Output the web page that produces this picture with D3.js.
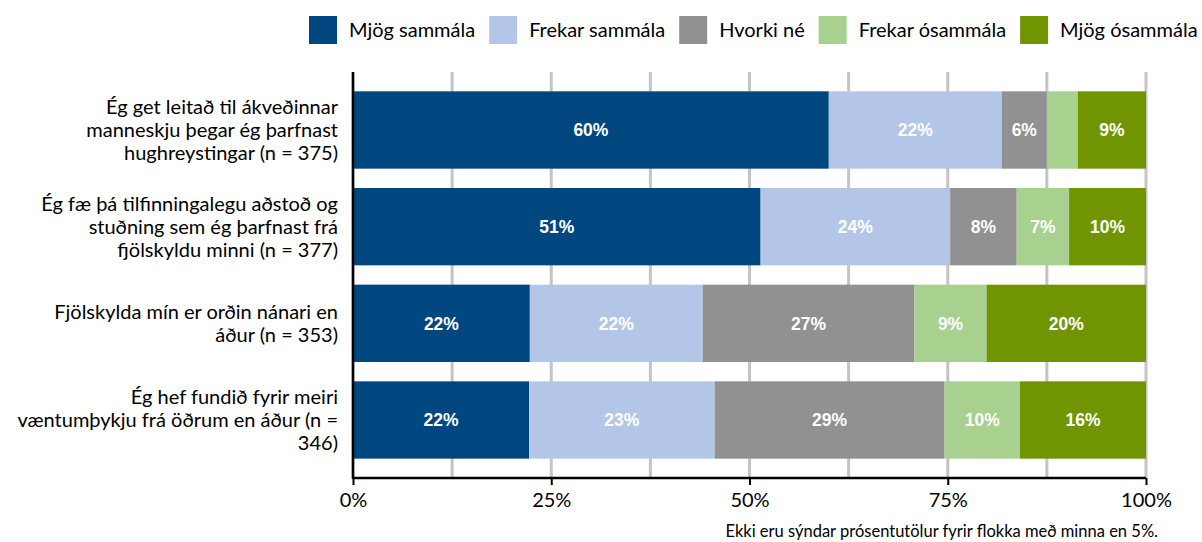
<!DOCTYPE html>
<html>
<head>
<meta charset="utf-8">
<script src="https://cdn.jsdelivr.net/npm/d3@7"></script>
<style>
  html, body { margin: 0; padding: 0; background: #fff; }
  svg { display: block; }
</style>
</head>
<body>
<svg id="chart" width="1202" height="542"></svg>
<script>
// Survey statements (line breaks mark where each label wraps)
const categories = [
  "Ég get leitað til ákveðinnar\nmanneskju þegar ég þarfnast\nhughreystingar (n = 375)",
  "Ég fæ þá tilfinningalegu aðstoð og\nstuðning sem ég þarfnast frá\nfjölskyldu minni (n = 377)",
  "Fjölskylda mín er orðin nánari en\náður (n = 353)",
  "Ég hef fundið fyrir meiri\nvæntumþykju frá öðrum en áður (n =\n346)"
];

const seriesNames = ["Mjög sammála", "Frekar sammála", "Hvorki né", "Frekar ósammála", "Mjög ósammála"];

// Share of answers (%) per statement, one array per response option
const mjogSammala    = [60.0, 51.4, 22.3, 22.2];
const frekarSammala  = [21.8, 23.9, 21.8, 23.4];
const hvorkiNe       = [5.7, 8.4, 26.7, 29.0];
const frekarOsammala = [3.9, 6.6, 9.1, 9.5];
const mjogOsammala   = [8.6, 9.7, 20.1, 15.9];

const xTickValues = [0, 25, 50, 75, 100];
const footnote = "Ekki eru sýndar prósentutölur fyrir flokka með minna en 5%.";

const colors = ["#00477f", "#b4c6e7", "#919191", "#a8d08e", "#709500"];
const labelFont = "Lato, 'Noto Sans', sans-serif";

const seriesValues = [mjogSammala, frekarSammala, hvorkiNe, frekarOsammala, mjogOsammala];
const rows = categories.map((c, i) => {
  const r = { cat: c };
  seriesNames.forEach((s, j) => { r[s] = seriesValues[j][i]; });
  return r;
});

const svg = d3.select("#chart");
const margin = { top: 72, left: 353, right: 56, bottom: 64 };
const W = 1202, H = 542;

const x = d3.scaleLinear().domain([0, 100]).range([margin.left, W - margin.right]);
const y = d3.scaleBand().domain(categories).range([margin.top, H - margin.bottom])
  .paddingInner(0.2).paddingOuter(0.2);

// Vertical gridlines every 12.5%
svg.append("g")
  .selectAll("line")
  .data(d3.range(0, 100.01, 12.5))
  .join("line")
  .attr("x1", d => x(d)).attr("x2", d => x(d))
  .attr("y1", margin.top).attr("y2", H - margin.bottom)
  .attr("stroke", "#c4c4c4").attr("stroke-width", 3);

// Stacked bars
const stack = d3.stack().keys(seriesNames)(rows);
const layers = svg.append("g").selectAll("g")
  .data(stack)
  .join("g")
  .attr("fill", (d, i) => colors[i]);

layers.selectAll("rect")
  .data(d => d)
  .join("rect")
  .attr("x", d => x(d[0]))
  .attr("width", d => x(d[1]) - x(d[0]))
  .attr("y", d => y(d.data.cat))
  .attr("height", y.bandwidth());

// Value labels (only for segments of 5% or more)
layers.selectAll("text")
  .data(d => d.filter(v => v[1] - v[0] >= 5))
  .join("text")
  .attr("x", d => (x(d[0]) + x(d[1])) / 2)
  .attr("y", d => y(d.data.cat) + y.bandwidth() / 2)
  .attr("dy", "0.36em")
  .attr("text-anchor", "middle")
  .attr("fill", "#fff")
  .attr("font-family", "'Liberation Sans', Arial, sans-serif")
  .attr("font-weight", "bold")
  .attr("font-size", 17.5)
  .text(d => Math.round(d[1] - d[0]) + "%");

// Left axis line
svg.append("line")
  .attr("x1", margin.left).attr("x2", margin.left)
  .attr("y1", margin.top).attr("y2", H - margin.bottom + 1)
  .attr("stroke", "#000").attr("stroke-width", 2.5);

// Bottom axis
const xAxis = svg.append("g")
  .attr("transform", `translate(0,${H - margin.bottom})`)
  .call(d3.axisBottom(x).tickValues(xTickValues).tickFormat(d => d + "%").tickSize(7).tickPadding(8));
xAxis.select(".domain").attr("stroke", "#000").attr("stroke-width", 2.5)
  .attr("d", `M${x(0)},0H${x(100)}`);
xAxis.selectAll(".tick line").attr("stroke", "#000").attr("stroke-width", 2);
xAxis.selectAll(".tick text")
  .attr("font-family", labelFont).attr("font-size", 20).attr("fill", "#000");

// Category labels
const lineH = 23;
svg.append("g").selectAll("text")
  .data(categories)
  .join("text")
  .attr("text-anchor", "end")
  .attr("font-family", labelFont)
  .attr("font-size", 20)
  .attr("fill", "#000")
  .each(function (d) {
    const lines = d.split("\n");
    const cy = y(d) + y.bandwidth() / 2;
    const start = cy - (lines.length - 1) * lineH / 2;
    d3.select(this).selectAll("tspan")
      .data(lines)
      .join("tspan")
      .attr("x", 338)
      .attr("y", (l, i) => start + i * lineH)
      .attr("dy", "0.35em")
      .text(l => l);
  });

// Legend, laid out left to right from the first swatch
const legend = svg.append("g");
const items = legend.selectAll("g").data(seriesNames).join("g");
items.append("rect").attr("width", 28).attr("height", 28).attr("y", 16)
  .attr("fill", (d, i) => colors[i]);
items.append("text")
  .attr("x", 40).attr("y", 30).attr("dy", "0.35em")
  .attr("font-family", labelFont).attr("font-size", 20).attr("fill", "#000")
  .text(d => d);
let cursor = 309;
items.each(function () {
  const w = d3.select(this).select("text").node().getComputedTextLength();
  d3.select(this).attr("transform", `translate(${cursor},0)`);
  cursor += 40 + w + 14;
});

// Footnote
svg.append("text")
  .attr("x", 1158).attr("y", 531).attr("dy", "0.35em")
  .attr("text-anchor", "end")
  .attr("font-family", labelFont).attr("font-size", 16.5).attr("fill", "#000")
  .text(footnote);
</script>
</body>
</html>
